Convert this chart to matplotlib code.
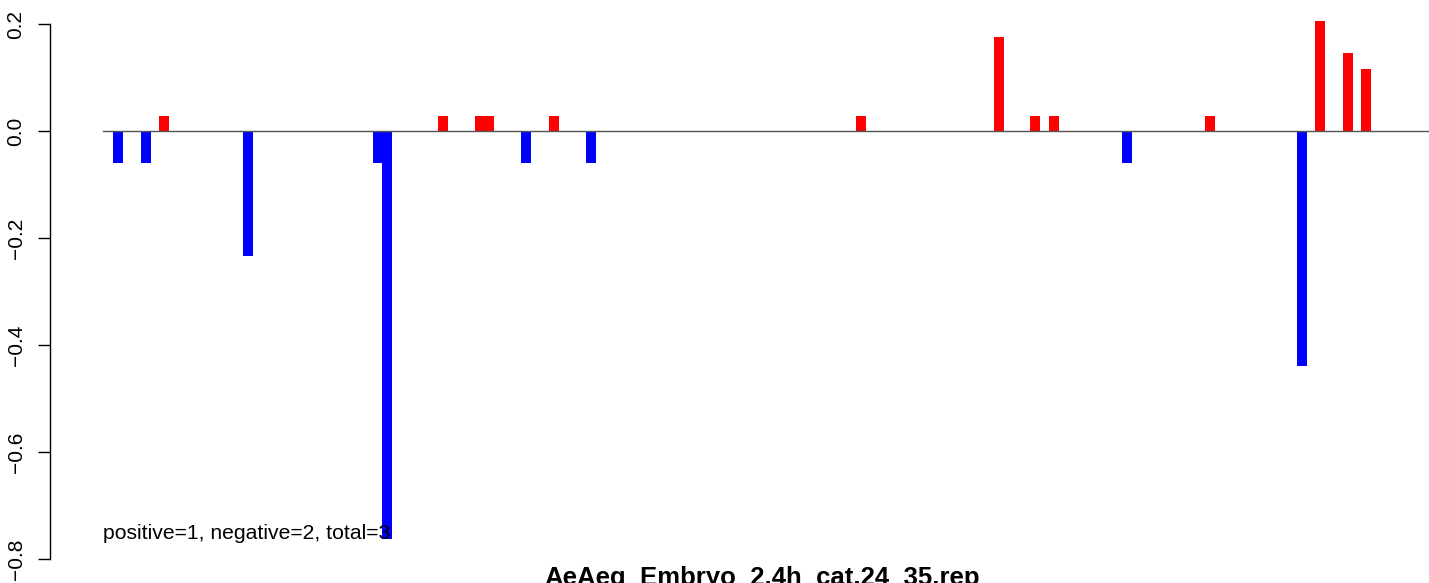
import matplotlib
matplotlib.use("Agg")
import matplotlib.pyplot as plt

plt.rcParams['font.family'] = ['Liberation Sans', 'DejaVu Sans']

# posicoes (unidades arbitrarias ao longo da sequencia) e valores
positions = [15, 43, 61, 145, 274.5, 284, 340, 377, 386, 423, 451, 488,
             758, 896, 932, 951, 1024, 1107, 1199, 1217, 1245, 1263]
values = [-0.059, -0.059, 0.0286, -0.234, -0.059, -0.762, 0.0286, 0.0286,
          0.0286, -0.059, 0.0286, -0.059, 0.0286, 0.176, 0.0286, 0.0286,
          -0.059, 0.0286, -0.440, 0.206, 0.146, 0.116]
x_end = 1326
y_ticks = [-0.8, -0.6, -0.4, -0.2, 0.0, 0.2]
y_labels = ["\u22120.8", "\u22120.6", "\u22120.4", "\u22120.2", "0.0", "0.2"]
title = "AeAeg_Embryo_2.4h_cat.24_35.rep"
note = "positive=1, negative=2, total=3"

colors = ['#FF0000' if v > 0 else '#0000FF' for v in values]

W, H = 1429, 583
fig = plt.figure(figsize=(W / 100, H / 100), dpi=100)
ax = fig.add_axes([50 / W, 0, 1 - 50 / W, 1])

ax.bar(positions, values, width=10, color=colors, linewidth=0, zorder=2)
ax.plot([0, x_end], [0, 0], color='#555555', linewidth=1.0, zorder=3)

ax.set_xlim(-53, x_end)
ax.set_ylim(-0.8449, 0.2449)

for s in ['top', 'right', 'bottom']:
    ax.spines[s].set_visible(False)
ax.spines['left'].set_bounds(-0.8, 0.2)
ax.spines['left'].set_linewidth(1.0)
ax.set_xticks([])
ax.set_yticks(y_ticks)
ax.set_yticklabels(y_labels, rotation=90, va='center', fontsize=15)
ax.tick_params(axis='y', length=8.6, width=1.0, pad=9)
ax.patch.set_alpha(0)

ax.text(0, -0.762, note, fontsize=15.2, ha='left', va='baseline', zorder=4)

# titulo cortado na margem inferior, como no original
fig.text(762 / W, -0.004, title, fontsize=18.5, fontweight='bold',
         ha='center', va='baseline')

fig.savefig('out.png', dpi=100)
